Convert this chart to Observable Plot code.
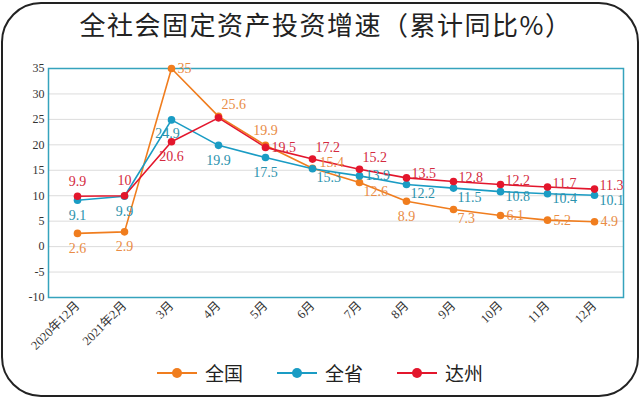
<!DOCTYPE html>
<html>
<head>
<meta charset="utf-8">
<script src="https://cdn.jsdelivr.net/npm/d3@7"></script>
<script src="https://cdn.jsdelivr.net/npm/@observablehq/plot@0.6"></script>
<style>
  html, body { margin: 0; padding: 0; background: #fff; }
  #wrap { position: relative; width: 640px; height: 398px; background: #fff; overflow: hidden; }
  #border { position: absolute; left: 1px; top: 2px; width: 634px; height: 391px; border: 2px solid #222; border-radius: 40px; }
  #title { position: absolute; top: 7px; left: 0; width: 100%; box-sizing: border-box; padding-left: 12px; text-align: center; font-family: "Noto Sans CJK SC", sans-serif; font-size: 26px; line-height: 34px; color: #222; letter-spacing: 1.5px; }
  #chart { position: absolute; left: 0; top: 50px; }
  #legend { position: absolute; top: 359px; left: 0; width: 100%; display: flex; justify-content: center; gap: 34px; font-family: "Noto Sans CJK SC", sans-serif; font-size: 19px; color: #222; }
  .item { display: flex; align-items: center; gap: 8px; }
</style>
</head>
<body>
<div id="wrap">
  <div id="border"></div>
  <div id="title">全社会固定资产投资增速（累计同比%）</div>
  <div id="chart"></div>
  <div id="legend"></div>
</div>
<script>
// ---- data ----
const categories = ["2020年12月", "2021年2月", "3月", "4月", "5月", "6月", "7月", "8月", "9月", "10月", "11月", "12月"];
const seriesNames = ["全国", "全省", "达州"];
const national = [2.6, 2.9, 35, 25.6, 19.9, 15.4, 12.6, 8.9, 7.3, 6.1, 5.2, 4.9];
const province = [9.1, 9.9, 24.9, 19.9, 17.5, 15.3, 13.9, 12.2, 11.5, 10.8, 10.4, 10.1];
const dazhou = [9.9, 10, 20.6, 25.3, 19.5, 17.2, 15.2, 13.5, 12.8, 12.2, 11.7, 11.3];
const yTicks = [-10, -5, 0, 5, 10, 15, 20, 25, 30, 35];

// ---- styling ----
const lineColors = {"全国": "#f07d1e", "全省": "#1a9cc4", "达州": "#e3162c"};
const labelColors = {"全国": "#e98c45", "全省": "#2b92ad", "达州": "#d42a40"};
// label placement per point
const labelPlace = {
  "全国": ["b", "b", "r", "ar", "a", "rh", "br", "b", "br", "r", "r", "r"],
  "全省": ["b", "b", "bl", "b", "b", "br", "r", "br", "br", "rd", "rd", "rd"],
  "达州": ["a", "a", "b", "n", "r", "ar", "ar", "ru", "ru", "ru", "ru", "ru"]
};
const placeOffsets = {
  a: {dx: 0, dy: -15, textAnchor: "middle"},
  b: {dx: 0, dy: 15, textAnchor: "middle"},
  bl: {dx: -4, dy: 14, textAnchor: "middle"},
  r: {dx: 6, dy: 0, textAnchor: "start"},
  rh: {dx: 7, dy: -6, textAnchor: "start"},
  ru: {dx: 5, dy: -4, textAnchor: "start"},
  rd: {dx: 5, dy: 5, textAnchor: "start"},
  ar: {dx: 3, dy: -12, textAnchor: "start"},
  br: {dx: 4, dy: 9, textAnchor: "start"}
};

const seriesValues = {"全国": national, "全省": province, "达州": dazhou};
const rows = [];
for (const s of seriesNames) {
  seriesValues[s].forEach((v, i) => rows.push({cat: categories[i], value: v, series: s, place: labelPlace[s][i]}));
}

const textMarks = Object.entries(placeOffsets).map(([code, off]) =>
  Plot.text(rows.filter(d => d.place === code), {
    x: "cat", y: "value", text: d => String(d.value),
    fill: d => labelColors[d.series],
    dx: off.dx, dy: off.dy, textAnchor: off.textAnchor,
    fontSize: 14, fontFamily: "Liberation Serif, serif"
  })
);

const chart = Plot.plot({
  width: 640,
  height: 308,
  marginLeft: 48,
  marginRight: 17,
  marginTop: 18,
  marginBottom: 61,
  style: {fontFamily: "Liberation Serif, 'Noto Sans CJK SC', serif", fontSize: "12px", color: "#333", background: "transparent"},
  x: {type: "point", domain: categories, padding: 0.55, label: null},
  y: {domain: [-10, 35], label: null},
  marks: [
    Plot.ruleY(yTicks, {stroke: "#dcdcdc", strokeWidth: 1}),
    Plot.frame({stroke: "#35a3bd", strokeWidth: 1.5}),
    Plot.axisY({ticks: yTicks, tickSize: 0, tickPadding: 4, tickFormat: d => String(d), fontSize: 12, fill: "#333"}),
    Plot.axisX({tickRotate: -45, tickSize: 0, tickPadding: 6, fontSize: 12.5, fill: "#333"}),
    Plot.line(rows, {x: "cat", y: "value", z: "series", stroke: d => lineColors[d.series], strokeWidth: 1.6}),
    Plot.dot(rows, {x: "cat", y: "value", fill: d => lineColors[d.series], r: 3.8}),
    ...textMarks
  ]
});
document.getElementById("chart").appendChild(chart);

// ---- legend ----
const legend = document.getElementById("legend");
for (const s of seriesNames) {
  const item = document.createElement("div");
  item.className = "item";
  item.innerHTML = `<svg width="40" height="12"><line x1="0" y1="6" x2="40" y2="6" stroke="${lineColors[s]}" stroke-width="2"/><circle cx="20" cy="6" r="5" fill="${lineColors[s]}"/></svg><span>${s}</span>`;
  legend.appendChild(item);
}
</script>
</body>
</html>
